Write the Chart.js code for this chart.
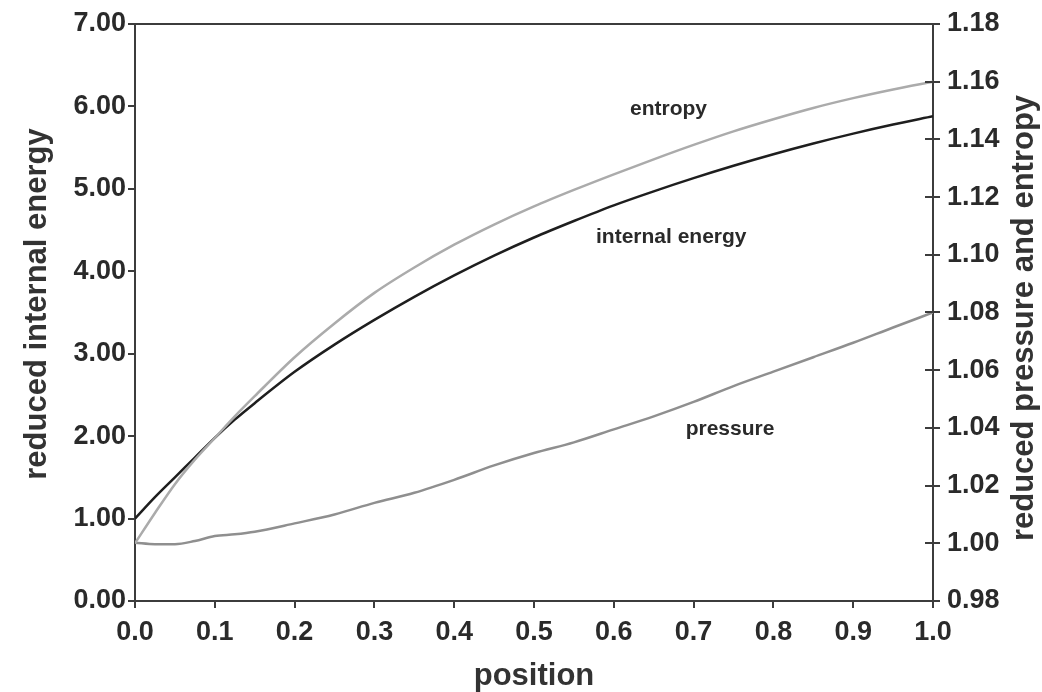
<!DOCTYPE html>
<html>
<head>
<meta charset="utf-8">
<script src="https://cdn.jsdelivr.net/npm/chart.js@4/dist/chart.umd.min.js"></script>
<style>
  html, body { margin: 0; padding: 0; background: #ffffff; }
  #wrap { width: 1042px; height: 692px; }
</style>
</head>
<body>
<div id="wrap"><canvas id="c" width="1042" height="692"></canvas></div>
<script>
// ---- data ----
const positions = [0, 0.025, 0.05, 0.075, 0.1, 0.125, 0.15, 0.2, 0.25, 0.3, 0.35, 0.4, 0.45, 0.5, 0.55, 0.6, 0.65, 0.7, 0.75, 0.8, 0.85, 0.9, 0.95, 1.0];
const internalEnergy = [1.00, 1.26, 1.50, 1.74, 1.98, 2.20, 2.40, 2.78, 3.11, 3.41, 3.69, 3.95, 4.19, 4.41, 4.61, 4.80, 4.97, 5.13, 5.28, 5.42, 5.55, 5.67, 5.78, 5.88];
const entropy = [1.0000, 1.0105, 1.0205, 1.0290, 1.0365, 1.0440, 1.0510, 1.0645, 1.0762, 1.0868, 1.0956, 1.1035, 1.1105, 1.1168, 1.1225, 1.1279, 1.1331, 1.1381, 1.1428, 1.1470, 1.1509, 1.1543, 1.1573, 1.1600];
const pressure = [1.0002, 0.9997, 0.9997, 1.0008, 1.0025, 1.0031, 1.0040, 1.0069, 1.0100, 1.0140, 1.0175, 1.0220, 1.0270, 1.0313, 1.0350, 1.0395, 1.0440, 1.0490, 1.0545, 1.0595, 1.0645, 1.0695, 1.0748, 1.0800];

const xTicks = [0, 0.1, 0.2, 0.3, 0.4, 0.5, 0.6, 0.7, 0.8, 0.9, 1.0];
const leftTicks = [0, 1, 2, 3, 4, 5, 6, 7];
const rightTicks = [0.98, 1.00, 1.02, 1.04, 1.06, 1.08, 1.10, 1.12, 1.14, 1.16, 1.18];

const xTitle = 'position';
const leftTitle = 'reduced internal energy';
const rightTitle = 'reduced pressure and entropy';

// annotation labels: [text, x, y, axis]
const curveLabels = [
  ['entropy', 0.6685, 1.1485, 'y2'],
  ['internal energy', 0.672, 4.343, 'y'],
  ['pressure', 0.7456, 1.0375, 'y2']
];

// ---- styles ----
const FONT = '"Liberation Sans", Arial, Helvetica, sans-serif';
const AXIS_COLOR = '#3c3c3c';
const TEXT_COLOR = '#2a2a2a';
const tickFont = { family: FONT, size: 27, weight: 'bold' };

const pts = (ys) => positions.map((x, i) => ({ x: x, y: ys[i] }));

function fixedTicks(arr) {
  return function (scale) { scale.ticks = arr.map(v => ({ value: v })); };
}

const extras = {
  id: 'extras',
  afterDraw(chart) {
    const ctx = chart.ctx;
    const a = chart.chartArea;
    const y2 = chart.scales.y2;
    ctx.save();
    // top frame line
    ctx.strokeStyle = AXIS_COLOR;
    ctx.lineWidth = 2;
    ctx.beginPath();
    ctx.moveTo(a.left - 1, a.top);
    ctx.lineTo(a.right + 1, a.top);
    ctx.stroke();
    // inward halves of right-axis ticks
    ctx.beginPath();
    rightTicks.forEach(v => {
      const py = Math.round(y2.getPixelForValue(v));
      ctx.moveTo(a.right - 8, py);
      ctx.lineTo(a.right, py);
    });
    ctx.stroke();

    // axis titles
    ctx.fillStyle = '#333333';
    ctx.font = 'bold 31px ' + FONT;
    ctx.textAlign = 'center';
    ctx.textBaseline = 'alphabetic';
    ctx.fillText(xTitle, (a.left + a.right) / 2, 685);

    ctx.save();
    ctx.translate(46, 304);
    ctx.rotate(-Math.PI / 2);
    ctx.fillText(leftTitle, 0, 0);
    ctx.restore();

    ctx.save();
    ctx.translate(1033, 318);
    ctx.rotate(-Math.PI / 2);
    ctx.fillText(rightTitle, 0, 0);
    ctx.restore();

    // curve labels
    ctx.fillStyle = TEXT_COLOR;
    ctx.font = 'bold 21px ' + FONT;
    curveLabels.forEach(([t, x, y, ax]) => {
      const px = chart.scales.x.getPixelForValue(x);
      const py = chart.scales[ax].getPixelForValue(y);
      ctx.fillText(t, px, py);
    });
    ctx.restore();
  }
};

new Chart(document.getElementById('c'), {
  type: 'line',
  data: {
    datasets: [
      { label: 'entropy', data: pts(entropy), yAxisID: 'y2', borderColor: '#ababab', borderWidth: 2.5, pointRadius: 0, cubicInterpolationMode: 'monotone', fill: false },
      { label: 'pressure', data: pts(pressure), yAxisID: 'y2', borderColor: '#8f8f8f', borderWidth: 2.5, pointRadius: 0, cubicInterpolationMode: 'monotone', fill: false },
      { label: 'internal energy', data: pts(internalEnergy), yAxisID: 'y', borderColor: '#1e1e1e', borderWidth: 2.5, pointRadius: 0, cubicInterpolationMode: 'monotone', fill: false }
    ]
  },
  options: {
    responsive: false,
    animation: false,
    events: [],
    layout: { padding: { top: 24, left: 0, right: 0, bottom: 0 } },
    plugins: { legend: { display: false }, tooltip: { enabled: false } },
    scales: {
      x: {
        type: 'linear', position: 'bottom', min: 0, max: 1,
        afterBuildTicks: fixedTicks(xTicks),
        afterFit(s) { s.height = 91; },
        ticks: { font: tickFont, color: TEXT_COLOR, padding: 8, maxRotation: 0, autoSkip: false,
                 callback: v => Number(v).toFixed(1) },
        grid: { drawOnChartArea: false, drawTicks: true, tickLength: 7, color: AXIS_COLOR, lineWidth: 2 },
        border: { display: true, color: AXIS_COLOR, width: 2 }
      },
      y: {
        type: 'linear', position: 'left', min: 0, max: 7,
        afterBuildTicks: fixedTicks(leftTicks),
        afterFit(s) { s.width = 135; },
        ticks: { font: tickFont, color: TEXT_COLOR, padding: 2, autoSkip: false,
                 callback: v => Number(v).toFixed(2) },
        grid: { drawOnChartArea: false, drawTicks: true, tickLength: 7, color: AXIS_COLOR, lineWidth: 2 },
        border: { display: true, color: AXIS_COLOR, width: 2 }
      },
      y2: {
        type: 'linear', position: 'right', min: 0.98, max: 1.18,
        afterBuildTicks: fixedTicks(rightTicks),
        afterFit(s) { s.width = 109; },
        ticks: { font: tickFont, color: TEXT_COLOR, padding: 7, autoSkip: false,
                 callback: v => Number(v).toFixed(2) },
        grid: { drawOnChartArea: false, drawTicks: true, tickLength: 7, color: AXIS_COLOR, lineWidth: 2 },
        border: { display: true, color: AXIS_COLOR, width: 2 }
      }
    }
  },
  plugins: [extras]
});
</script>
</body>
</html>
